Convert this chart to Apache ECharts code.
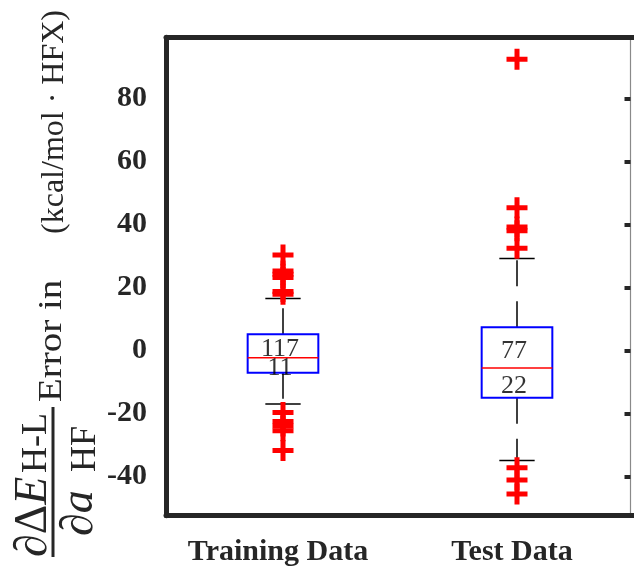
<!DOCTYPE html>
<html>
<head>
<meta charset="utf-8">
<script src="https://cdn.jsdelivr.net/npm/echarts@6/dist/echarts.min.js"></script>
<style>
  html, body { margin: 0; padding: 0; background: #fff; }
  #chart { width: 634px; height: 569px; }
</style>
</head>
<body>
<div id="chart"></div>
<script>
// Groups on the x axis
const categories = ['Training Data', 'Test Data'];

// Box statistics per group: [lower whisker, Q1, median, Q3, upper whisker]
const trainingStats = [-17.0, -7.1, -2.35, 5.1, 16.5];
const testStats = [-35.0, -15.05, -5.6, 7.3, 29.2];

// Points beyond the whiskers
const trainingOutliers = [30.3, 25.2, 24.2, 23.1, 18.7, 17.8, -19.7, -22.6, -24.0, -25.5, -31.8];
const testOutliers = [92.4, 45.3, 39.2, 38.0, 32.4, -37.3, -41.2, -45.6];

// Counts written inside each box (above / below the median)
const countTexts = ['117', '11', '77', '22'];
const countGroups = [0, 0, 1, 1];
const countLevels = [0.35, -5.8, -0.2, -11.3];

// Value axis
const yMin = -52.5;
const yMax = 99.4;
const yTicks = [-40, -20, 0, 20, 40, 60, 80];

const AXIS_COLOR = '#262626';
const SERIF = 'Liberation Serif';

const boxData = [trainingStats, testStats].map((s, i) => [i].concat(s));
const outlierData = []
  .concat(trainingOutliers.map(v => [0, v]))
  .concat(testOutliers.map(v => [1, v]));
const countData = countTexts.map((t, i) => ({ name: t, value: [countGroups[i], countLevels[i]] }));

function renderBox(params, api) {
  const i = api.value(0);
  const lo = api.coord([i, api.value(1)]);
  const q1 = api.coord([i, api.value(2)]);
  const med = api.coord([i, api.value(3)]);
  const q3 = api.coord([i, api.value(4)]);
  const hi = api.coord([i, api.value(5)]);
  const bw = api.size([1, 0])[0] * 0.302;
  const cw = bw / 2;
  const x = med[0];
  const whisker = { stroke: '#000', lineWidth: 1.5, lineDash: [26, 15] };
  const cap = { stroke: '#000', lineWidth: 1.5 };
  return {
    type: 'group',
    children: [
      { type: 'line', shape: { x1: x, y1: q3[1], x2: x, y2: hi[1] }, style: whisker },
      { type: 'line', shape: { x1: x, y1: q1[1], x2: x, y2: lo[1] }, style: whisker },
      { type: 'line', shape: { x1: x - cw / 2, y1: hi[1], x2: x + cw / 2, y2: hi[1] }, style: cap },
      { type: 'line', shape: { x1: x - cw / 2, y1: lo[1], x2: x + cw / 2, y2: lo[1] }, style: cap },
      { type: 'rect', shape: { x: x - bw / 2, y: q3[1], width: bw, height: q1[1] - q3[1] },
        style: { fill: 'none', stroke: '#0000ff', lineWidth: 2 } },
      { type: 'line', shape: { x1: x - bw / 2, y1: med[1], x2: x + bw / 2, y2: med[1] },
        style: { stroke: '#ff0000', lineWidth: 1.5 } }
    ]
  };
}

const tickStyle = { inside: true, length: 7, lineStyle: { color: AXIS_COLOR, width: 4 } };
const lineStyle = { show: true, onZero: false, lineStyle: { color: AXIS_COLOR, width: 5 } };

// Rotated y-axis title: fraction followed by the unit text
const titleColor = '#262626';
const titleElements = [
  { type: 'text', x: 52, y: 402, rotation: Math.PI / 2, scaleX: 1.18,
    style: { text: 'Error in', font: '33px "' + SERIF + '"', fill: titleColor, align: 'left', verticalAlign: 'middle' } },
  { type: 'text', x: 55, y: 10, rotation: Math.PI / 2,
    style: { text: '(kcal/mol \u00b7 HFX)', font: '32px "' + SERIF + '"', fill: titleColor, align: 'right', verticalAlign: 'middle' } },
  { type: 'line', shape: { x1: 53, y1: 407, x2: 53, y2: 557 }, style: { stroke: titleColor, lineWidth: 3 } },
  // numerator
  { type: 'text', x: 34, y: 557, rotation: Math.PI / 2,
    style: { text: '{i|\u2202}{r|\u0394}{i|E}', fill: titleColor, align: 'left', verticalAlign: 'middle',
      rich: { i: { font: 'italic 46px "' + SERIF + '"', fill: titleColor }, r: { font: '46px "' + SERIF + '"', fill: titleColor } } } },
  { type: 'text', x: 37, y: 473, rotation: Math.PI / 2,
    style: { text: 'H-L', font: '36px "' + SERIF + '"', fill: titleColor, align: 'left', verticalAlign: 'middle' } },
  // denominator
  { type: 'text', x: 80, y: 536, rotation: Math.PI / 2,
    style: { text: '\u2202a', font: 'italic 46px "' + SERIF + '"', fill: titleColor, align: 'left', verticalAlign: 'middle' } },
  { type: 'text', x: 86, y: 472, rotation: Math.PI / 2,
    style: { text: 'HF', font: '36px "' + SERIF + '"', fill: titleColor, align: 'left', verticalAlign: 'middle' } }
];

const chart = echarts.init(document.getElementById('chart'), null, { renderer: 'canvas' });
chart.setOption({
  animation: false,
  backgroundColor: '#fff',
  grid: { left: 166, top: 37.3, width: 470, height: 478.4, containLabel: false },
  xAxis: [
    {
      type: 'category', data: categories, position: 'bottom', boundaryGap: true,
      axisLine: lineStyle,
      axisTick: Object.assign({ alignWithLabel: true }, tickStyle),
      axisLabel: { interval: 0, color: AXIS_COLOR, fontFamily: SERIF, fontWeight: 'bold', fontSize: 30, margin: 22, padding: [0, 10, 0, 0] },
      splitLine: { show: false }
    },
    {
      type: 'category', data: categories, position: 'top', boundaryGap: true,
      axisLine: lineStyle,
      axisTick: Object.assign({ alignWithLabel: true }, tickStyle),
      axisLabel: { show: false },
      splitLine: { show: false }
    }
  ],
  yAxis: [
    {
      type: 'value', position: 'left', min: yMin, max: yMax,
      axisLine: lineStyle,
      axisTick: Object.assign({ customValues: yTicks }, tickStyle),
      axisLabel: { customValues: yTicks, color: AXIS_COLOR, fontFamily: SERIF, fontWeight: 'bold', fontSize: 30, margin: 19 },
      splitLine: { show: false }
    },
    {
      type: 'value', position: 'right', min: yMin, max: yMax, offset: -3.5,
      axisLine: { show: true, onZero: false, lineStyle: { color: '#8a8a8a', width: 1.2 } },
      axisTick: { show: true, inside: true, length: 6, customValues: yTicks, lineStyle: { color: AXIS_COLOR, width: 4 } },
      axisLabel: { show: false },
      splitLine: { show: false }
    }
  ],
  series: [
    {
      type: 'custom', name: 'box', renderItem: renderBox, data: boxData,
      encode: { x: 0, y: [1, 2, 3, 4, 5] }, silent: true, z: 2
    },
    {
      type: 'scatter', name: 'outliers', data: outlierData,
      symbol: 'path://M8 0H13V8H21V13H13V21H8V13H0V8H8Z', symbolSize: 21,
      itemStyle: { color: '#ff0000', opacity: 1 }, silent: true, z: 3
    },
    {
      type: 'scatter', name: 'counts', data: countData, symbolSize: 1,
      itemStyle: { color: 'rgba(0,0,0,0)' }, silent: true, z: 4,
      label: { show: true, position: 'inside', formatter: p => p.name, color: '#000',
        fontFamily: SERIF, fontSize: 26, offset: [-3, 0] }
    }
  ],
  graphic: { elements: titleElements }
});
</script>
</body>
</html>
